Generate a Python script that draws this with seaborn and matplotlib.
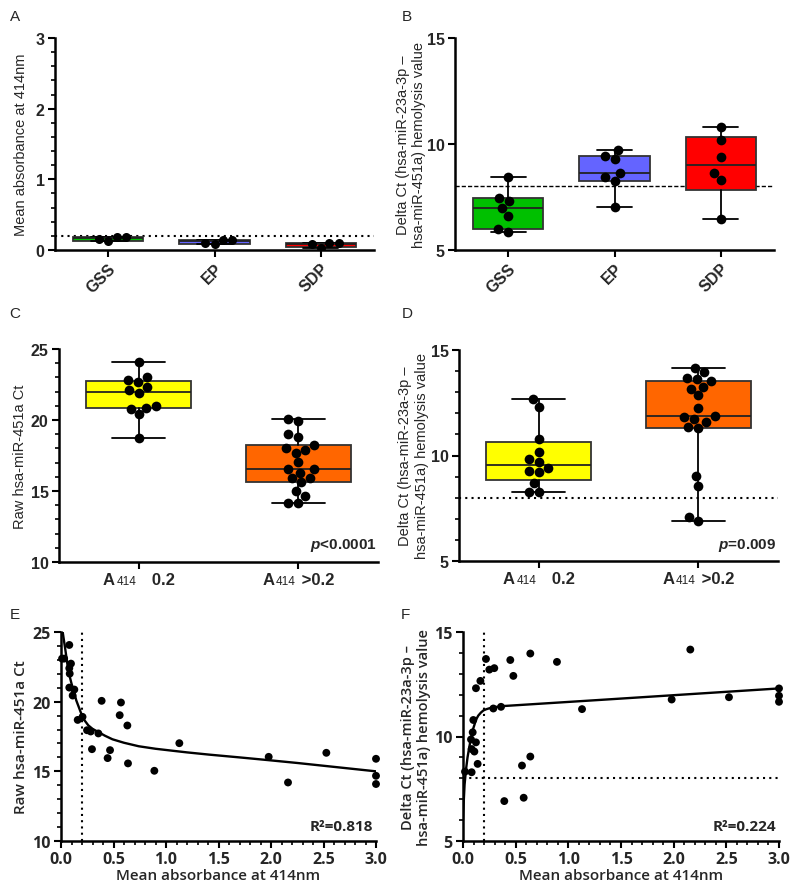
import numpy as np
import pandas as pd
import seaborn as sns
import matplotlib
matplotlib.use("Agg")
import matplotlib.pyplot as plt
from matplotlib.ticker import MultipleLocator, FormatStrFormatter
from matplotlib.offsetbox import HPacker, TextArea, AnnotationBbox

# ---- data ----
cats_ab = ['GSS', 'EP', 'SDP']
a_gss = [0.177, 0.126, 0.153, 0.177]
a_ep = [0.14, 0.084, 0.105, 0.14]
a_sdp = [0.093, 0.035, 0.084, 0.093]

b_gss = [8.42, 7.44, 7.31, 6.97, 6.61, 5.98, 5.87]
b_ep = [9.71, 9.44, 9.28, 8.65, 8.46, 8.26, 7.05]
b_sdp = [10.80, 10.18, 9.39, 8.62, 8.29, 6.45]

cats_cd = ['low', 'high']
c_low = [24.06, 23.05, 22.79, 22.65, 22.3, 22.1, 21.9, 21.0, 20.86, 20.8, 20.39, 18.72]
c_high = [20.04, 19.94, 18.99, 18.83, 18.25, 18.02, 17.88, 17.71, 17.05, 16.58,
          16.54, 16.3, 15.95, 15.9, 15.6, 15.0, 14.65, 14.14, 14.14]
d_low = [12.67, 12.28, 10.78, 10.18, 9.83, 9.70, 9.39, 9.26, 9.23, 8.69, 8.29, 8.29]
d_high = [14.13, 13.95, 13.67, 13.64, 13.53, 13.27, 13.17, 12.86, 12.23, 11.85,
          11.83, 11.72, 11.6, 11.35, 11.3, 9.02, 8.57, 7.08, 6.89]

e_abs = [0.01, 0.03, 0.079, 0.095, 0.079, 0.083, 0.079, 0.127, 0.111, 0.159, 0.205,
         0.248, 0.283, 0.356, 0.387, 0.571, 0.559, 0.632, 0.295, 0.467, 1.127,
         0.444, 0.638, 0.889, 1.978, 2.162, 2.527, 3.0, 3.0, 3.0]
e_ct = [23.09, 23.09, 24.07, 22.73, 22.4, 22.01, 21.01, 20.87, 20.44, 18.69, 18.91,
        17.95, 17.86, 17.72, 20.06, 19.94, 19.03, 18.29, 16.59, 16.52, 17.02,
        15.95, 15.57, 15.04, 16.04, 14.2, 16.33, 15.9, 14.68, 14.09]
e_fit_x = [0, 0.016, 0.04, 0.07, 0.1, 0.12, 0.145, 0.17, 0.195, 0.22, 0.26, 0.3, 0.36,
           0.42, 0.49, 0.6, 0.74, 0.9, 1.06, 1.2, 1.41, 1.7, 1.98, 2.25, 2.5, 2.75, 3.0]
e_fit_y = [25.0, 25.0, 23.8, 22.2, 21.3, 20.8, 20.1, 19.6, 19.1, 18.7, 18.3, 18.05, 17.8,
           17.55, 17.3, 17.05, 16.8, 16.62, 16.48, 16.36, 16.2, 16.0, 15.8, 15.6, 15.4, 15.2, 15.0]

f_abs = [0.019, 0.082, 0.139, 0.098, 0.092, 0.076, 0.123, 0.082, 0.108, 0.123, 0.165,
         0.218, 0.25, 0.297, 0.288, 0.361, 0.449, 0.478, 0.639, 0.892, 1.13, 0.56,
         0.639, 0.392, 0.576, 2.158, 1.981, 2.525, 3.0, 3.0, 3.0]
f_dct = [8.32, 8.29, 8.69, 10.79, 10.2, 9.86, 9.72, 9.40, 9.28, 12.31, 12.66,
         13.71, 13.2, 13.27, 11.34, 11.42, 13.66, 12.9, 13.97, 13.57, 11.31, 8.61,
         9.04, 6.91, 7.07, 14.16, 11.77, 11.88, 12.30, 11.95, 11.66]
f_fit_x = [0.0, 0.006, 0.015, 0.028, 0.043, 0.06, 0.075, 0.092, 0.108, 0.123, 0.145,
           0.171, 0.195, 0.218, 0.25, 0.288, 0.361, 1.3, 3.0]
f_fit_y = [6.0, 6.8, 7.7, 8.4, 9.0, 9.5, 9.9, 10.3, 10.55, 10.8, 11.0,
           11.15, 11.25, 11.3, 11.35, 11.39, 11.45, 11.75, 12.3]

col_ab = ['#00c000', '#6464ff', '#ff0000']
col_cd = ['#ffff00', '#ff6600']

sns.set_style('ticks')
plt.rcParams['font.family'] = ['Liberation Sans', 'DejaVu Sans']
plt.rcParams['mathtext.fontset'] = 'custom'
plt.rcParams['mathtext.it'] = 'Liberation Sans:italic:bold'
plt.rcParams['mathtext.rm'] = 'Liberation Sans:bold'

W, H = 800, 895
fig = plt.figure(figsize=(W / 100, H / 100), dpi=100)


def make_ax(l, r, t, b):
    return fig.add_axes([l / W, 1 - b / H, (r - l) / W, (b - t) / H])


def style_ax(ax, fs=11.5, family=None):
    sns.despine(ax=ax)
    for s in ['left', 'bottom']:
        ax.spines[s].set_linewidth(1.8)
        ax.spines[s].set_color('black')
    ax.tick_params(which='major', length=5, width=1.5, labelsize=fs, color='black', pad=2.5)
    ax.tick_params(which='minor', length=3, width=1.2, color='black')
    for lab in ax.get_xticklabels() + ax.get_yticklabels():
        lab.set_fontweight('bold')
        if family:
            lab.set_family(family)


def box_panel(ax, groups, cats, colors, size):
    stats = []
    for v in groups:
        q1, med, q3 = np.percentile(v, [25, 50, 75], method='weibull')
        stats.append(dict(med=med, q1=q1, q3=q3, whislo=min(v), whishi=max(v), fliers=[]))
    bp = ax.bxp(stats, positions=range(len(cats)), widths=0.66, capwidths=0.33,
                patch_artist=True, showfliers=False, manage_ticks=False,
                boxprops=dict(edgecolor='#333333', linewidth=1.3),
                medianprops=dict(color='#222222', linewidth=1.3),
                whiskerprops=dict(color='black', linewidth=1.3),
                capprops=dict(color='black', linewidth=1.3))
    for patch, c in zip(bp['boxes'], colors):
        patch.set_facecolor(c)
    df = pd.DataFrame({'group': np.repeat(cats, [len(g) for g in groups]),
                       'value': np.concatenate(groups)})
    sns.swarmplot(data=df, x='group', y='value', order=cats, color='black',
                  size=size, ax=ax, zorder=3)
    ax.set_xlim(-0.5, len(cats) - 0.5)
    ax.set_xlabel('')


def a414(ax, x, rest):
    parts = [TextArea('A', textprops=dict(fontsize=12, fontweight='bold')),
             TextArea('414', textprops=dict(fontsize=8.5)),
             TextArea(rest, textprops=dict(fontsize=12, fontweight='bold'))]
    box = HPacker(children=parts, align='baseline', pad=0, sep=1)
    ab = AnnotationBbox(box, (x, 0), xycoords=('data', 'axes fraction'),
                        xybox=(0, -7), boxcoords='offset points',
                        box_alignment=(0.5, 1), frameon=False, annotation_clip=False)
    ax.add_artist(ab)


dotted = (0, (1, 2))
ylab_b = 'Delta Ct (hsa-miR-23a-3p \u2013\nhsa-miR-451a) hemolysis value'

# ---- A ----
axA = make_ax(55, 374, 39, 251)
box_panel(axA, [a_gss, a_ep, a_sdp], cats_ab, col_ab, 6.5)
axA.axhline(0.2, color='black', lw=1.5, ls=dotted, zorder=1)
axA.set_ylim(0, 3)
axA.yaxis.set_major_locator(MultipleLocator(1))
axA.yaxis.set_minor_locator(MultipleLocator(0.2))
axA.set_ylabel('Mean absorbance at 414nm', fontsize=10.5)
axA.yaxis.set_label_coords(-0.085, 0.5)
axA.set_xticks(range(3))
axA.set_xticklabels(cats_ab, rotation=45, ha='right', rotation_mode='anchor')
style_ax(axA)

# ---- B ----
axB = make_ax(455, 774, 39, 251)
box_panel(axB, [b_gss, b_ep, b_sdp], cats_ab, col_ab, 7)
axB.axhline(8, color='black', lw=1, ls=(0, (3, 1.5)), zorder=1)
axB.set_ylim(5, 15)
axB.yaxis.set_major_locator(MultipleLocator(5))
axB.set_ylabel(ylab_b, fontsize=10.5)
axB.yaxis.set_label_coords(-0.09, 0.5)
axB.set_xticks(range(3))
axB.set_xticklabels(cats_ab, rotation=45, ha='right', rotation_mode='anchor')
style_ax(axB)

# ---- C ----
axC = make_ax(59, 378, 350, 563)
box_panel(axC, [c_low, c_high], cats_cd, col_cd, 7)
axC.set_ylim(10, 25)
axC.yaxis.set_major_locator(MultipleLocator(5))
axC.yaxis.set_minor_locator(MultipleLocator(1))
axC.set_ylabel('Raw hsa-miR-451a Ct', fontsize=10.5)
axC.yaxis.set_label_coords(-0.1, 0.5)
axC.set_xticks(range(2))
axC.set_xticklabels(['', ''])
a414(axC, 0, '   0.2')
a414(axC, 1, ' >0.2')
axC.text(0.995, 0.04, r'$\mathit{p}$<0.0001', transform=axC.transAxes, ha='right',
         va='bottom', fontsize=11, fontweight='bold')
style_ax(axC)

# ---- D ----
axD = make_ax(459, 778, 351, 562)
box_panel(axD, [d_low, d_high], cats_cd, col_cd, 7)
axD.axhline(8, color='black', lw=1.5, ls=dotted, zorder=1)
axD.set_ylim(5, 15)
axD.yaxis.set_major_locator(MultipleLocator(5))
axD.yaxis.set_minor_locator(MultipleLocator(1))
axD.set_ylabel(ylab_b, fontsize=10.5)
axD.yaxis.set_label_coords(-0.095, 0.5)
axD.set_xticks(range(2))
axD.set_xticklabels(['', ''])
a414(axD, 0, '   0.2')
a414(axD, 1, ' >0.2')
axD.text(0.995, 0.04, r'$\mathit{p}$=0.009', transform=axD.transAxes, ha='right',
         va='bottom', fontsize=11, fontweight='bold')
style_ax(axD)

# ---- E ----
axE = make_ax(61, 376, 633, 842)
sns.scatterplot(x=e_abs, y=e_ct, color='black', s=32, edgecolor='none', ax=axE,
                clip_on=False, zorder=3)
sns.lineplot(x=e_fit_x, y=e_fit_y, color='black', lw=1.7, ax=axE, estimator=None, sort=False)
axE.axvline(0.2, color='black', lw=1.5, ls=dotted, zorder=1)
axE.set_xlim(0, 3)
axE.set_ylim(10, 25)
axE.xaxis.set_major_locator(MultipleLocator(0.5))
axE.xaxis.set_minor_locator(MultipleLocator(0.1))
axE.yaxis.set_major_locator(MultipleLocator(5))
axE.yaxis.set_minor_locator(MultipleLocator(1))
axE.xaxis.set_major_formatter(FormatStrFormatter('%.1f'))
axE.set_xlabel('Mean absorbance at 414nm', fontsize=11, family='Open Sans', fontweight='semibold')
axE.set_ylabel('Raw hsa-miR-451a Ct', fontsize=11, family='Open Sans', fontweight='semibold')
axE.yaxis.set_label_coords(-0.105, 0.5)
axE.xaxis.set_label_coords(0.5, -0.13)
axE.text(0.99, 0.04, 'R\u00b2=0.818', transform=axE.transAxes, ha='right', va='bottom',
         fontsize=11, fontweight='bold', family='Open Sans')
style_ax(axE, fs=11.5, family='Open Sans')

# ---- F ----
axF = make_ax(463, 779, 633, 842)
sns.scatterplot(x=f_abs, y=f_dct, color='black', s=32, edgecolor='none', ax=axF,
                clip_on=False, zorder=3)
sns.lineplot(x=f_fit_x, y=f_fit_y, color='black', lw=1.7, ax=axF, estimator=None, sort=False)
axF.axvline(0.2, color='black', lw=1.5, ls=dotted, zorder=1)
axF.axhline(8, color='black', lw=1.5, ls=dotted, zorder=1)
axF.set_xlim(0, 3)
axF.set_ylim(5, 15)
axF.xaxis.set_major_locator(MultipleLocator(0.5))
axF.xaxis.set_minor_locator(MultipleLocator(0.1))
axF.yaxis.set_major_locator(MultipleLocator(5))
axF.yaxis.set_minor_locator(MultipleLocator(1))
axF.xaxis.set_major_formatter(FormatStrFormatter('%.1f'))
axF.set_xlabel('Mean absorbance at 414nm', fontsize=11, family='Open Sans', fontweight='semibold')
axF.set_ylabel(ylab_b, fontsize=10.5, family='Open Sans', fontweight='semibold')
axF.yaxis.set_label_coords(-0.1, 0.5)
axF.xaxis.set_label_coords(0.5, -0.13)
axF.text(0.99, 0.04, 'R\u00b2=0.224', transform=axF.transAxes, ha='right', va='bottom',
         fontsize=11, fontweight='bold', family='Open Sans')
style_ax(axF, fs=11.5, family='Open Sans')

# panel letters
for letter, x, y in [('A', 15, 17), ('B', 407, 17), ('C', 15, 314), ('D', 407, 314),
                     ('E', 15, 615), ('F', 405, 615)]:
    fig.text(x / W, 1 - y / H, letter, fontsize=11, ha='center', va='center')

fig.savefig('out.png', dpi=100)
